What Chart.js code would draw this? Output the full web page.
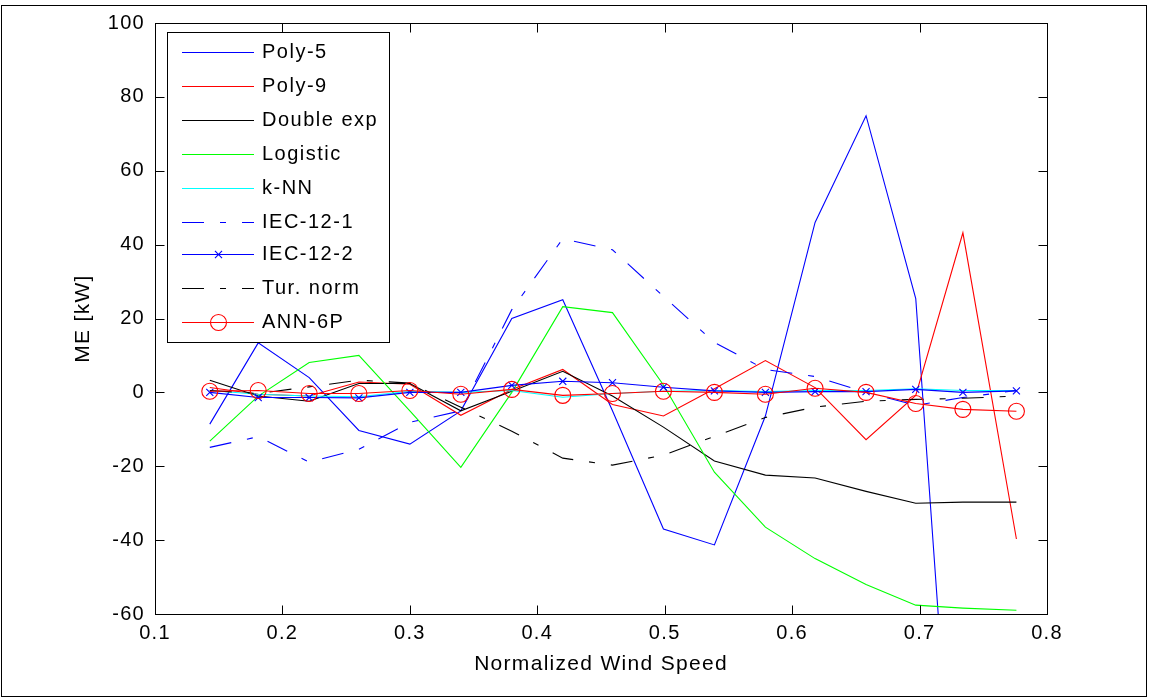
<!DOCTYPE html>
<html><head><meta charset="utf-8">
<script src="https://cdn.jsdelivr.net/npm/chart.js@4/dist/chart.umd.min.js"></script>
<style>html,body{margin:0;padding:0;background:#fff}#wrap{position:relative;width:1149px;height:698px}canvas{display:block}</style>
</head><body><div id="wrap"><canvas id="c" width="1149" height="698"></canvas></div>
<script>
const windSpeed = [0.143, 0.181, 0.221, 0.260, 0.300, 0.340, 0.380, 0.420, 0.459, 0.499, 0.539, 0.579, 0.618, 0.658, 0.697, 0.734, 0.776];
const poly5     = [-8.6, 13.4, 4.0, -10.3, -14.0, -5.0, 20.0, 25.1, -5.0, -37.0, -41.3, -6.4, 46.0, 74.9, 25.4, -154, -200];
const poly9     = [1.3, -0.5, -1.0, 2.8, 2.2, -6.2, 0.8, 6.2, -3.3, -6.4, 1.0, 8.6, 1.3, -12.8, -0.8, 43.2, -39.7];
const doubleExp = [3.3, -1.0, -2.4, 2.4, 2.4, -5.0, 0.3, 5.7, -1.0, -9.4, -18.6, -22.4, -23.2, -26.8, -30.0, -29.7, -29.7];
const logistic  = [-13.2, -1.0, 8.1, 10.0, -5.0, -20.3, 0.0, 23.2, 21.6, 2.0, -21.6, -36.5, -45.0, -52.0, -57.6, -58.4, -59.0];
const kNN       = [0.5, -0.5, -1.0, -1.2, 0.3, 0.0, 0.5, -1.3, -0.3, 0.3, 0.5, 0.2, 0.5, 0.5, 1.0, 0.5, 0.5];
const iec121    = [-14.9, -12.0, -18.9, -15.4, -8.1, -5.0, 22.4, 41.6, 38.6, 26.0, 13.5, 6.2, 4.3, 0.0, -3.5, -1.4, 0.5];
const iec122    = [0.0, -1.4, -1.4, -1.5, 0.0, 0.0, 1.9, 3.0, 2.6, 1.4, 0.4, 0.0, 0.2, 0.2, 0.8, 0.0, 0.4];
const turNorm   = [0.5, -0.3, 1.5, 3.3, 2.5, -4.0, -10.5, -17.8, -19.7, -17.0, -11.9, -6.8, -4.0, -2.4, -1.9, -1.6, -1.0];
const ann6p     = [0.3, 0.5, -0.3, -0.3, 0.5, -0.5, 0.8, -0.8, -0.3, 0.3, 0.0, -0.5, 1.1, 0.0, -3.0, -4.6, -5.1];
const seriesNames = ['Poly-5', 'Poly-9', 'Double exp', 'Logistic', 'k-NN', 'IEC-12-1', 'IEC-12-2', 'Tur. norm', 'ANN-6P'];
const xTickValues = [0.1, 0.2, 0.3, 0.4, 0.5, 0.6, 0.7, 0.8];
const yTickValues = [-60, -40, -20, 0, 20, 40, 60, 80, 100];
const xTitle = 'Normalized Wind Speed';
const yTitle = 'ME [kW]';

const FONT = "'Liberation Sans', Arial, Helvetica, sans-serif";
const DASH = [22, 16, 6, 16];
const seriesValues = [poly5, poly9, doubleExp, logistic, kNN, iec121, iec122, turNorm, ann6p];
const styles = [
  {c: '#0000ff'}, {c: '#ff0000'}, {c: '#000000'}, {c: '#00ff00'}, {c: '#00ffff'},
  {c: '#0000ff', dash: DASH}, {c: '#0000ff', marker: 'crossRot', r: 5}, {c: '#000000', dash: DASH},
  {c: '#ff0000', marker: 'circle', r: 8}
];
const datasets = seriesValues.map((vals, i) => ({
  label: seriesNames[i],
  data: vals.map((v, k) => ({x: windSpeed[k], y: v})),
  borderColor: styles[i].c,
  backgroundColor: styles[i].c,
  borderWidth: 1.1,
  borderDash: styles[i].dash || [],
  pointStyle: styles[i].marker || 'circle',
  pointRadius: styles[i].marker ? styles[i].r : 0,
  pointBorderColor: styles[i].c,
  pointBackgroundColor: 'rgba(0,0,0,0)',
  pointBorderWidth: 1.1,
  tension: 0,
  order: 9 - i
}));

const framePlugin = {
  id: 'frame',
  beforeDraw(chart) { chart.ctx.letterSpacing = '1.3px'; },
  afterDraw(chart) {
    const ctx = chart.ctx, a = chart.chartArea, xs = chart.scales.x, ys = chart.scales.y;
    ctx.save();
    ctx.setLineDash([]);
    ctx.strokeStyle = '#000'; ctx.lineWidth = 1;
    const L = Math.round(a.left) + 0.5, R = Math.round(a.right) + 0.5, T = Math.round(a.top) + 0.5, B = Math.round(a.bottom) + 0.5;
    ctx.strokeRect(L, T, R - L, B - T);
    ctx.beginPath();
    xTickValues.forEach(v => {
      const px = Math.round(xs.getPixelForValue(v)) + 0.5;
      ctx.moveTo(px, B); ctx.lineTo(px, B - 9);
      ctx.moveTo(px, T); ctx.lineTo(px, T + 9);
    });
    yTickValues.forEach(v => {
      const py = Math.round(ys.getPixelForValue(v)) + 0.5;
      ctx.moveTo(L, py); ctx.lineTo(L + 9, py);
      ctx.moveTo(R, py); ctx.lineTo(R - 9, py);
    });
    ctx.stroke();
    // outer figure border
    ctx.strokeRect(1.5, 5.5, 1145, 691);
    // legend box
    const lx0 = 167.5, ly0 = 32.5, lx1 = 389.5, ly1 = 342.5;
    ctx.fillStyle = '#ffffff';
    ctx.fillRect(lx0, ly0, lx1 - lx0, ly1 - ly0);
    ctx.strokeStyle = '#000000';
    ctx.strokeRect(lx0, ly0, lx1 - lx0, ly1 - ly0);
    ctx.restore();

    seriesNames.forEach((name, i) => {
      const st = styles[i];
      const y = 2 * Math.round((52 + i * 33.8) / 2);
      ctx.save();
      ctx.fillStyle = st.c;
      if (st.dash) {
        let x = 182, k = 0;
        while (x < 254) {
          const len = st.dash[k % st.dash.length];
          if (k % 2 === 0) ctx.fillRect(x, y, Math.min(len, 254 - x), 1);
          x += len; k++;
        }
      } else {
        ctx.fillRect(182, y, 72, 1);
      }
      if (st.marker) {
        const cx = 218.5, cy = y + 0.5;
        ctx.strokeStyle = st.c; ctx.lineWidth = 1.1;
        ctx.setLineDash([]);
        ctx.beginPath();
        if (st.marker === 'circle') {
          ctx.arc(cx, cy, st.r, 0, Math.PI * 2);
        } else {
          const h = st.r * Math.SQRT1_2;
          ctx.moveTo(cx - h, cy - h); ctx.lineTo(cx + h, cy + h);
          ctx.moveTo(cx - h, cy + h); ctx.lineTo(cx + h, cy - h);
        }
        ctx.stroke();
      }
      ctx.fillStyle = '#000000';
      ctx.font = '20px ' + FONT;
      ctx.letterSpacing = '1.5px';
      ctx.textAlign = 'left'; ctx.textBaseline = 'middle';
      ctx.fillText(name, 262, y + 0.5);
      ctx.restore();
    });
  }
};

new Chart(document.getElementById('c'), {
  type: 'line',
  data: {datasets},
  options: {
    responsive: false,
    animation: false,
    events: [],
    layout: {padding: {top: 23, right: 102, left: 0, bottom: 0}},
    plugins: {legend: {display: false}, tooltip: {enabled: false}},
    scales: {
      x: {
        type: 'linear', min: 0.1, max: 0.8,
        afterBuildTicks: s => { s.ticks = xTickValues.map(v => ({value: v})); },
        ticks: {callback: v => v.toFixed(1), color: '#000', font: {family: FONT, size: 20}, padding: 7, maxRotation: 0, autoSkip: false},
        grid: {display: false, drawTicks: false},
        border: {display: false},
        title: {display: true, text: xTitle, color: '#000', font: {family: FONT, size: 21}, padding: {top: 0, bottom: 21}},
        afterFit: s => { s.height = 84; }
      },
      y: {
        type: 'linear', min: -60, max: 100,
        afterBuildTicks: s => { s.ticks = yTickValues.map(v => ({value: v})); },
        ticks: {callback: v => String(v), color: '#000', font: {family: FONT, size: 20}, padding: 10, autoSkip: false},
        grid: {display: false, drawTicks: false},
        border: {display: false},
        title: {display: true, text: yTitle, color: '#000', font: {family: FONT, size: 21}, padding: {top: 71, bottom: 0}},
        afterFit: s => { s.width = 155; }
      }
    }
  },
  plugins: [framePlugin]
});
</script></body></html>
